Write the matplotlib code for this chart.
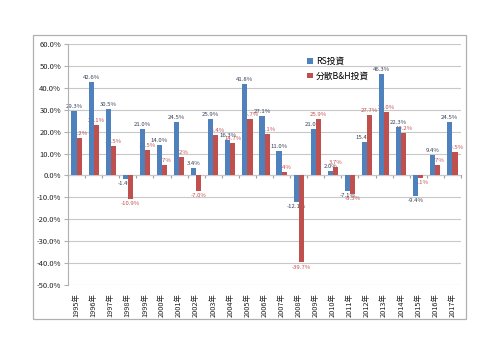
import numpy as np
import matplotlib
matplotlib.use("Agg")
import matplotlib.pyplot as plt
from matplotlib.patches import Rectangle

plt.rcParams['font.family'] = ['Noto Sans CJK JP', 'DejaVu Sans']

# data
years = ["{}年".format(y) for y in range(1995, 2018)]
rs = [29.3, 42.6, 30.5, -1.4, 21.0, 14.0, 24.5, 3.4, 25.9, 16.3, 41.8, 27.1,
      11.0, -12.1, 21.0, 2.0, -7.1, 15.4, 46.3, 22.3, -9.4, 9.4, 24.5]
bh = [17.2, 23.1, 13.5, -10.9, 11.5, 4.7, 8.2, -7.0, 18.4, 14.7, 25.7, 19.1,
      1.4, -39.7, 25.9, 3.7, -8.5, 27.7, 29.0, 19.2, -1.1, 4.7, 10.5]
series = ["RS投資", "分散B&H投資"]
colors = ["#4f81bd", "#c0504d"]
label_colors = ["#34405a", "#c0504d"]

fig = plt.figure(figsize=(5, 3.53), dpi=100)
fig.patch.set_facecolor("white")
ax = fig.add_axes([0.136, 0.1926, 0.786, 0.6828])

# chart border
fig.patches.append(Rectangle((0.066, 0.096), 0.866, 0.805, transform=fig.transFigure,
                             fill=False, edgecolor="#b0b0b0", lw=0.9))

x = np.arange(len(years))
w = 0.3
for k, vals in enumerate([rs, bh]):
    pos = x - w / 2 + k * w
    ax.bar(pos, vals, w, color=colors[k], label=series[k], zorder=3)
    for p, v in zip(pos, vals):
        # labels sit behind the bars, as in the original
        ax.annotate("{:.1f}%".format(v), (p, v),
                    xytext=(0, 1.5 if v >= 0 else -1.5), textcoords="offset points",
                    ha="center", va="bottom" if v >= 0 else "top",
                    fontsize=4.3, color=label_colors[k], zorder=2)

ax.set_ylim(-50, 60)
ax.set_xlim(-0.5, len(years) - 0.5)
ax.set_yticks(np.arange(-50, 61, 10))
ax.set_yticklabels(["{:.1f}%".format(t) for t in np.arange(-50, 61, 10)])
ax.yaxis.grid(True, color="#c8c8c8", lw=0.8, zorder=0)
ax.tick_params(axis="y", length=3, color="#b0b0b0", labelsize=5.5, pad=2, labelcolor="#222222")

ax.set_xticks(x)
ax.set_xticklabels(years, rotation=90, fontsize=5.3, color="#222222")
ax.tick_params(axis="x", length=0, pad=6)

for s in ["top", "right", "bottom"]:
    ax.spines[s].set_visible(False)
ax.spines["left"].set_color("#b0b0b0")

# zero axis with category ticks
ymin, ymax = ax.get_ylim()
sec = ax.secondary_xaxis((0 - ymin) / (ymax - ymin))
sec.set_xticks(np.arange(len(years) + 1) - 0.5)
sec.set_xticklabels([])
sec.tick_params(direction="out", length=2.5, color="#a0a0a0")
sec.spines["bottom"].set_color("#a0a0a0")

ax.legend(loc="upper left", bbox_to_anchor=(0.6, 0.96), frameon=False,
          fontsize=6.3, handlelength=0.6, handleheight=0.6, handletextpad=0.4,
          labelspacing=0.6, borderaxespad=0)

fig.savefig("out.png", dpi=100, facecolor="white")
